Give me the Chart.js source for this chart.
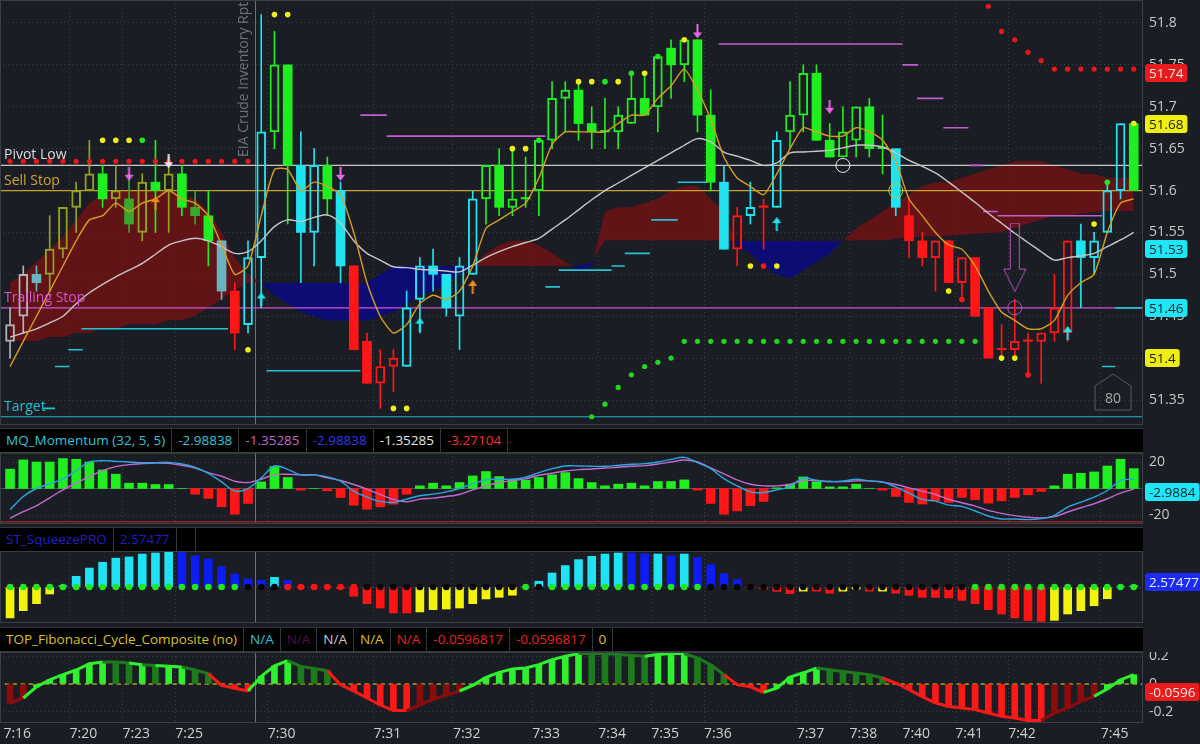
<!DOCTYPE html>
<html>
<head>
<meta charset="utf-8">
<script src="https://cdn.jsdelivr.net/npm/chart.js@4.4.0/dist/chart.umd.min.js"></script>
<style>
  html, body { margin: 0; padding: 0; background: #1a1d23; width: 1200px; height: 744px; overflow: hidden; font-family: 'Open Sans', sans-serif; }
  .pane { position: absolute; left: 0; width: 1200px; }
  .hdr { position: absolute; left: 0; width: 1143px; height: 23px; background: #000; border-top: 1px solid #34373e; border-bottom: 1px solid #34373e; display: flex; font-size: 13.5px; line-height: 23px; }
  .hdr span { padding: 0 6px; border-right: 1px solid #34373e; white-space: nowrap; }
  #tickBox { position: absolute; left: 1094px; top: 373px; }
</style>
</head>
<body>

<div class="pane" style="top:0;height:425px"><canvas id="mainChart" width="1200" height="425"></canvas></div>

<div class="hdr" style="top:428px">
  <span style="color:#2fc6dc">MQ_Momentum (32, 5, 5)</span>
  <span style="color:#2fc6dc">-2.98838</span>
  <span style="color:#c463c8">-1.35285</span>
  <span style="color:#2b3bef">-2.98838</span>
  <span style="color:#e6e6e6">-1.35285</span>
  <span style="color:#ff2a2a">-3.27104</span>
</div>
<div class="pane" style="top:452px;height:72px"><canvas id="momChart" width="1200" height="72"></canvas></div>

<div class="hdr" style="top:527px">
  <span style="color:#1f1fc4">ST_SqueezePRO</span>
  <span style="color:#1f1fc4">2.57477</span>
  <span style="width:6px"></span>
</div>
<div class="pane" style="top:551px;height:72px"><canvas id="sqzChart" width="1200" height="72"></canvas></div>

<div class="hdr" style="top:627px">
  <span style="color:#d9c21f">TOP_Fibonacci_Cycle_Composite (no)</span>
  <span style="color:#2fc6dc">N/A</span>
  <span style="color:#4a1242">N/A</span>
  <span style="color:#c8c8c8">N/A</span>
  <span style="color:#d9c21f">N/A</span>
  <span style="color:#e8231c">N/A</span>
  <span style="color:#e8231c">-0.0596817</span>
  <span style="color:#e8231c">-0.0596817</span>
  <span style="color:#d9c21f">0</span>
</div>
<div class="pane" style="top:652px;height:92px"><canvas id="fibChart" width="1200" height="92"></canvas></div>

<svg id="tickBox" width="38" height="38">
  <polygon points="1,13 19,1 37,13 37,37 1,37" fill="none" stroke="#575b63" stroke-width="1"/>
  <text x="19" y="30" fill="#a8a8a8" font-size="14" font-family="Open Sans" text-anchor="middle">80</text>
</svg>

<script>
// ── BARS / TIME AXIS ─────────────────────────────────────────────
const timeLabels = [
  '7:16','','','','','7:20','','','','7:23',
  '','','','7:25','','','','','','',
  '7:30','','','','','','','','7:31','',
  '','','','','7:32','','','','','',
  '7:33','','','','','7:34','','','','7:35',
  '','','','7:36','','','','','','',
  '7:37','','','','7:38','','','','7:40','',
  '','','7:41','','','','7:42','','','',
  '','','','7:45','',''
];
const eventBar = 19;
const eventText = 'EIA Crude Inventory Rpt';

// ── PRICE CANDLES ────────────────────────────────────────────────
const candleOpen = [
  51.42,51.45,51.50,51.50,51.53,51.58,51.60,51.62,51.59,51.59,
  51.55,51.61,51.60,51.62,51.58,51.57,51.54,51.48,51.44,51.52,
  51.67,51.75,51.63,51.55,51.63,51.60,51.51,51.42,51.37,51.39,
  51.39,51.47,51.51,51.50,51.45,51.50,51.59,51.63,51.58,51.59,
  51.60,51.66,51.71,51.72,51.68,51.67,51.67,51.68,51.71,51.70,
  51.77,51.75,51.78,51.69,51.61,51.53,51.57,51.58,51.58,51.67,
  51.69,51.74,51.66,51.64,51.66,51.70,51.65,51.65,51.57,51.54,
  51.52,51.54,51.49,51.52,51.46,51.41,51.41,51.42,51.42,51.43,
  51.43,51.54,51.52,51.55,51.60,51.68
];
const candleHigh = [
  51.46,51.51,51.51,51.57,51.58,51.61,51.66,51.63,51.63,51.62,
  51.62,51.66,51.64,51.63,51.60,51.60,51.54,51.49,51.54,51.81,
  51.79,51.75,51.67,51.65,51.64,51.61,51.51,51.43,51.41,51.41,
  51.48,51.52,51.53,51.50,51.52,51.60,51.63,51.65,51.65,51.64,
  51.66,51.73,51.73,51.73,51.70,51.71,51.70,51.74,51.74,51.76,
  51.78,51.78,51.78,51.72,51.63,51.58,51.61,51.59,51.67,51.73,
  51.75,51.75,51.68,51.70,51.70,51.71,51.69,51.65,51.59,51.55,
  51.54,51.54,51.52,51.52,51.46,51.44,51.47,51.43,51.43,51.50,
  51.54,51.56,51.55,51.61,51.68,51.68
];
const candleLow = [
  51.40,51.43,51.48,51.48,51.52,51.55,51.60,51.58,51.58,51.55,
  51.54,51.55,51.55,51.57,51.56,51.51,51.47,51.41,51.43,51.46,
  51.65,51.56,51.49,51.51,51.57,51.49,51.41,51.37,51.34,51.36,
  51.39,51.43,51.48,51.45,51.41,51.50,51.56,51.57,51.57,51.58,
  51.57,51.65,51.67,51.66,51.65,51.65,51.65,51.68,51.69,51.67,
  51.71,51.73,51.67,51.60,51.53,51.51,51.56,51.53,51.58,51.65,
  51.67,51.66,51.64,51.64,51.64,51.64,51.62,51.57,51.52,51.51,
  51.48,51.49,51.47,51.45,51.40,51.40,51.40,51.38,51.37,51.42,
  51.42,51.46,51.50,51.55,51.59,51.60
];
const candleClose = [
  51.44,51.50,51.49,51.53,51.58,51.60,51.62,51.59,51.60,51.56,
  51.61,51.60,51.62,51.58,51.57,51.54,51.48,51.43,51.52,51.67,
  51.75,51.63,51.55,51.63,51.59,51.51,51.41,51.37,51.39,51.40,
  51.46,51.51,51.50,51.46,51.51,51.59,51.63,51.58,51.59,51.59,
  51.66,51.71,51.72,51.68,51.67,51.67,51.69,51.71,51.69,51.76,
  51.75,51.78,51.69,51.61,51.53,51.57,51.58,51.58,51.66,51.69,
  51.74,51.66,51.64,51.67,51.70,51.65,51.65,51.58,51.54,51.52,
  51.54,51.49,51.52,51.45,51.40,51.41,51.42,51.42,51.43,51.46,
  51.54,51.52,51.54,51.60,51.68,51.60
];
const candleColor = [
  'W','W','c','O','O','O','O','G','O','D',
  'O','G','O','G','D','G','c','R','C','C',
  'G','G','C','C','G','C','R','R','R','R',
  'C','C','C','C','C','C','G','G','G','G',
  'G','G','G','G','G','G','G','G','G','G',
  'G','G','G','G','C','R','C','R','C','G',
  'G','G','G','G','G','G','G','C','R','R',
  'R','R','R','R','R','R','R','R','R','R',
  'R','C','C','C','C','G'
];

// ── OVERLAYS ─────────────────────────────────────────────────────
const emaFast = [
  51.39,51.42,51.45,51.48,51.51,51.54,51.565,51.57,51.585,51.575,
  51.585,51.59,51.60,51.59,51.585,51.57,51.535,51.50,51.51,51.57,
  51.625,51.625,51.60,51.61,51.605,51.595,51.55,51.49,51.45,51.43,
  51.44,51.465,51.475,51.47,51.48,51.51,51.555,51.565,51.575,51.585,
  51.615,51.655,51.67,51.67,51.67,51.67,51.68,51.69,51.69,51.71,
  51.725,51.745,51.72,51.685,51.64,51.615,51.605,51.595,51.62,51.65,
  51.675,51.67,51.665,51.665,51.675,51.67,51.66,51.635,51.59,51.57,
  51.55,51.535,51.53,51.51,51.48,51.455,51.445,51.435,51.435,51.445,
  51.475,51.49,51.50,51.55,51.585,51.59
];
const smaSlow = [
  51.425,51.43,51.435,51.442,51.45,51.465,51.478,51.488,51.497,51.505,
  51.513,51.524,51.535,51.54,51.543,51.54,51.533,51.525,51.527,51.54,
  51.557,51.565,51.563,51.568,51.571,51.561,51.54,51.525,51.517,51.509,
  51.508,51.506,51.505,51.504,51.503,51.511,51.52,51.527,51.533,51.538,
  51.543,51.554,51.565,51.577,51.589,51.60,51.609,51.618,51.627,51.636,
  51.645,51.654,51.662,51.658,51.646,51.641,51.636,51.63,51.633,51.645,
  51.646,51.647,51.648,51.651,51.654,51.654,51.652,51.645,51.636,51.629,
  51.621,51.61,51.598,51.586,51.573,51.561,51.549,51.538,51.527,51.517,
  51.52,51.522,51.525,51.533,51.541,51.55
];
const cloudSpanA = [
  51.49,51.50,51.515,51.53,51.545,51.565,51.585,51.595,51.60,51.60,
  51.60,51.60,51.60,51.595,51.59,51.575,51.55,51.52,51.50,51.49,
  51.475,51.465,51.455,51.45,51.445,51.445,51.445,51.445,51.45,51.455,
  51.465,51.475,51.48,51.49,51.50,51.51,51.525,51.535,51.54,51.54,
  51.535,51.525,51.515,51.505,51.51,51.575,51.58,51.58,51.585,51.59,
  51.60,51.605,51.605,51.59,51.575,51.535,51.525,51.51,51.50,51.495,
  51.505,51.515,51.525,51.54,51.555,51.565,51.575,51.585,51.595,51.605,
  51.61,51.61,51.615,51.62,51.625,51.63,51.635,51.635,51.635,51.63,
  51.625,51.62,51.62,51.615,51.615,51.615
];
const cloudSpanB = [
  51.42,51.42,51.42,51.425,51.425,51.43,51.43,51.435,51.435,51.44,
  51.44,51.44,51.445,51.445,51.45,51.46,51.47,51.48,51.49,51.49,
  51.49,51.49,51.49,51.49,51.49,51.49,51.49,51.49,51.50,51.51,
  51.51,51.51,51.51,51.51,51.51,51.51,51.51,51.51,51.51,51.51,
  51.51,51.51,51.51,51.51,51.515,51.54,51.54,51.54,51.54,51.54,
  51.54,51.54,51.54,51.54,51.54,51.54,51.54,51.54,51.54,51.54,
  51.54,51.54,51.54,51.54,51.54,51.54,51.54,51.542,51.544,51.545,
  51.545,51.546,51.547,51.548,51.549,51.55,51.555,51.56,51.565,51.57,
  51.57,51.572,51.574,51.575,51.575,51.575
];

const pivotLow = 51.63, sellStop = 51.60, trailingStop = 51.46, target = 51.33;

// level segments: [fromBar, toBar, price]
const resistanceLevels = [
  [26.5,28.5,51.69],[28.5,40.5,51.665],[53.6,67.5,51.775],[67.5,68.7,51.75],
  [68.6,70.6,51.71],[70.6,72.5,51.675],[72.6,73.6,51.63],[73.6,74.7,51.575],[74.7,82.6,51.57]
];
const supportLevels = [
  [2.5,3.4,51.34],[3.4,4.5,51.39],[4.4,5.5,51.41],[5.4,16.5,51.435],[19.4,26.5,51.385],
  [40.5,41.6,51.485],[41.5,45.5,51.505],[45.5,46.5,51.51],[46.5,48.4,51.525],
  [48.5,50.5,51.565],[50.5,52.8,51.61],[82.6,83.6,51.39],[83.6,85.8,51.46]
];

// dots: [bar, price]
const pivotDots = [
  [0,51.635],[1,51.635],[2,51.635],[3,51.635],[4,51.635],[5,51.635],[6,51.635],[7,51.635],[8,51.635],[9,51.635],
  [10,51.635],[11,51.635],[12,51.635],[13,51.635],[14,51.635],[15,51.635],[16,51.635],[17,51.635],[18,51.635]
];
const sarUp = [
  [44,51.33],[45,51.345],[46,51.365],[47,51.38],[48,51.39],[49,51.395],[50,51.40],
  [51,51.42],[52,51.42],[53,51.42],[54,51.42],[55,51.42],[56,51.42],[57,51.42],[58,51.42],
  [59,51.42],[60,51.42],[61,51.42],[62,51.42],[63,51.42],[64,51.42],[65,51.42],[66,51.42],
  [67,51.42],[68,51.42],[69,51.42],[70,51.42],[71,51.42],[72,51.42],[73,51.42]
];
const sarDown = [
  [74,51.82],[75,51.79],[76,51.78],[77,51.765],[78,51.755],[79,51.745],
  [80,51.745],[81,51.745],[82,51.745],[83,51.745],[84,51.745],[85,51.745]
];
const signalYellow = [
  [7,51.66],[8,51.66],[9,51.66],[18,51.41],[20,51.81],[21,51.81],[29,51.34],[30,51.34],
  [38,51.65],[39,51.65],[43,51.73],[44,51.73],[46,51.73],[48,51.74],[51,51.78],
  [56,51.51],[58,51.51],[71,51.48],[75,51.40],[76,51.40],[82,51.56],[85,51.68]
];
const signalGreen = [[10,51.66],[40,51.66],[45,51.73],[47,51.74],[49,51.76],[83,51.61]];
const signalRed = [[57,51.51],[72,51.47],[77,51.38]];

const arrowsDownMagenta = [[9,51.62],[25,51.62],[52,51.79],[62,51.70]];
const arrowsDownWhite = [[12,51.635]];
const arrowsUpOrange = [[11,51.585],[35,51.485]];
const arrowsUpCyan = [[19,51.47],[31,51.44],[58,51.56],[80,51.43]];
const ringWhite = [[63,51.63]], ringYellow = [[67,51.60]], ringMagenta = [[76,51.46]];
const bigArrow = [[76,51.52]];

const priceTicks = [51.35,51.4,51.45,51.5,51.55,51.6,51.65,51.7,51.75,51.8];

// ── MQ MOMENTUM ──────────────────────────────────────────────────
const mqHist = [
  14.6,21.6,20,20,22.6,22,20,14,10.8,4,
  4,3,3,0,-4.3,-7.5,-13.8,-19.4,-11.3,5,
  16.6,8.3,-1.2,0,-1.8,-6.8,-12.6,-15.6,-13.8,-11.8,
  -4.3,2,4,2,4.5,9.5,12.8,9,7,6.3,
  8.3,10.3,12,7.5,4.5,2,3.3,4,2,5.3,
  5.3,6.5,-1.2,-11.3,-19.4,-16.9,-13,-9.8,0.5,3.3,
  8.75,5,1.25,1.25,3.25,0,-1.25,-6,-10.5,-11.75,
  -9.25,-10.5,-6.75,-8.5,-11,-9.25,-6.75,-4.75,-2.25,2,
  10.75,11.5,12.5,17,22,15
];
const mqFast = [
  -16,-6,0,3.5,7,13.5,20,21,20.5,20,
  19.5,19.5,19.75,18.5,16,11.5,5,-2,0,8,
  17,14.5,10.25,10.25,8.75,5.5,-2,-6.5,-9.75,-10.5,
  -8,-5.5,-4.25,-2.5,0,3.5,6.5,7,7,8.5,
  12,15,17,17,16.75,16.75,17.5,18.25,18.75,20,
  22,23.5,19.5,15,7.5,2,-2.5,-3,-1,1.5,
  8,6.25,5.25,5.5,7,5.75,5,1,-3.5,-8.25,
  -9.5,-12.5,-13.5,-17,-20.75,-23,-23,-23.5,-22.75,-20.25,
  -14,-10.25,-6.5,-1.5,6,7
];
const mqSlow = [
  -22.5,-17.5,-13,-7,-1,4,9,13.5,16.5,18,
  18.75,19.25,19,17.5,15.5,12,9.25,5.5,4.5,7,
  10.5,10.75,10.25,10.25,8,6,3,-0.5,-4.5,-8.25,
  -10,-8,-7.25,-6,-4.5,-1,2,4.5,6,7.25,
  10,11.5,13.25,14.25,14.75,15.5,16,16.75,17.25,18.5,
  20,21.5,20,15.5,11,6.5,3.25,2,2,3,
  6.25,5.75,5.25,5.25,5.75,5.75,4.75,3,0.5,-2,
  -4.5,-8.25,-10.75,-13.25,-16.5,-18.75,-20.5,-21.75,-22.25,-21.25,
  -17.75,-14.5,-11.5,-7.75,-3.5,-0.5
];
const mqUpperBand = 27, mqLowerBand = -25;
const mqTicks = [20, -20];

// ── SQUEEZE PRO ──────────────────────────────────────────────────
const sqzHist = [
  -15,-11.5,-8.1,-3.4,0.6,5.2,9.2,12,14,14.6,
  16,16.5,17,17,15.2,13.6,10,6.3,3.9,3.2,
  4.7,3.2,0,0,0,-0.6,-4.5,-8.1,-10.2,-12.6,
  -12.6,-12.1,-11,-10.7,-10.2,-8.1,-5.8,-5,-4,0,
  2.8,6.8,10.4,13.3,14.9,16,16.5,16.5,16.2,16,
  15.2,16,14.4,10.8,6.5,3.6,0,-1,-2.1,-3.2,
  -2,-2,-3,-2,-1,-2,-2,-3,-4,-5,
  -5,-5.3,-6.5,-8.1,-11,-13.1,-15,-16.3,-16.7,-16.2,
  -13.1,-11.5,-9.1,-5.7,0.3,0.6
];
const sqzColor = [
  'Y','Y','Y','Y','C','C','C','C','C','C',
  'C','C','C','B','B','B','B','B','B','B',
  'C','B','R','R','R','R','R','R','R','R',
  'R','Y','Y','Y','Y','Y','Y','Y','Y','C',
  'C','C','C','C','C','C','C','B','B','C',
  'B','C','B','B','B','B','R','R','R','R',
  'Y','R','R','Y','Y','R','Y','R','R','R',
  'R','R','R','R','R','R','R','R','R','Y',
  'Y','Y','Y','Y','C','C'
];
const sqzDot = [
  'G','G','G','G','G','G','G','G','G','G',
  'G','G','G','G','G','G','G','G','K','K',
  'K','R','R','R','R','R','R','K','K','K',
  'K','K','K','K','K','K','K','K','K','G',
  'K','G','G','G','G','G','G','G','G','G',
  'G','G','G','K','K','K','K','K','K','K',
  'K','K','K','K','K','K','K','K','K','K',
  'K','K','K','G','G','G','G','G','G','G',
  'G','G','G','G','G','G'
];

// ── FIBONACCI CYCLE COMPOSITE ────────────────────────────────────
const fibValue = [
  -0.136,-0.10,-0.02,0.03,0.067,0.10,0.145,0.157,0.157,0.15,
  0.138,0.133,0.126,0.121,0.10,0.074,-0.01,-0.03,-0.05,0.055,
  0.13,0.167,0.126,0.11,0.095,-0.005,-0.05,-0.10,-0.15,-0.19,
  -0.19,-0.15,-0.11,-0.08,-0.05,-0.01,0.048,0.083,0.107,0.114,
  0.138,0.174,0.198,0.217,0.217,0.217,0.21,0.205,0.198,0.21,
  0.217,0.217,0.186,0.138,0.067,-0.005,-0.02,-0.06,-0.03,0.05,
  0.08,0.114,0.102,0.09,0.079,0.067,0.043,0.007,-0.04,-0.09,
  -0.135,-0.16,-0.171,-0.183,-0.207,-0.23,-0.243,-0.26,-0.26,-0.207,
  -0.171,-0.124,-0.088,-0.035,0.03,0.067
];
const fibColor = [
  'm','m','g','g','g','g','g','g','d','d',
  'g','d','g','g','d','d','r','r','r','g',
  'g','g','d','d','d','r','r','r','r','r',
  'r','m','m','m','m','g','g','g','g','g',
  'g','g','g','g','d','d','d','d','d','g',
  'g','g','d','d','d','r','r','r','g','g',
  'g','g','d','d','d','d','d','r','r','r',
  'r','r','r','r','r','r','r','r','r','m',
  'm','m','m','g','g','g'
];
const fibTicks = [0.2, 0, -0.2];

// ── STYLE ────────────────────────────────────────────────────────
const candlePalette = { G: '#1fee1f', D: '#38a82e', O: '#93a31c', C: '#1fe3ee', c: '#68b4be', R: '#ff1616', W: '#b4b4b4' };
const sqzPalette = { Y: '#f2f20c', C: '#1fe3f5', B: '#0c1cf2', R: '#ff1414' };
const sqzDotPalette = { G: '#1fe81f', K: '#050505', R: '#ff1414' };
const fibPalette = { g: '#2ef02e', d: '#1d7a1d', r: '#ff1818', m: '#8c0c0c' };
const GRID = '#3b4049';
const X_MIN = -0.76, X_MAX = 85.7;

Chart.defaults.font.family = "'Open Sans', sans-serif";
Chart.defaults.color = '#c8c8c8';

const tickBars = timeLabels.map((t, i) => (t ? i : -1)).filter(i => i >= 0);
const pts = arr => arr.map(([x, y]) => ({ x, y }));
const series = arr => arr.map((y, x) => ({ x, y }));
const segs = arr => arr.flatMap(([a, b, p]) => [{ x: a, y: p }, { x: b, y: p }, { x: b, y: null }]);
const flat = v => [{ x: -1, y: v }, { x: 87, y: v }];

function arrowImg(color, up, w = 9, h = 14) {
    const c = document.createElement('canvas');
    c.width = w; c.height = h;
    const g = c.getContext('2d');
    g.fillStyle = color;
    if (up) { g.translate(0, h); g.scale(1, -1); }
    g.fillRect(w / 2 - 1, 0, 2, h - 5);
    g.beginPath(); g.moveTo(0, h - 6); g.lineTo(w, h - 6); g.lineTo(w / 2, h); g.closePath(); g.fill();
    return c;
}
function hollowArrowImg(color) {
    const c = document.createElement('canvas');
    c.width = 24; c.height = 70;
    const g = c.getContext('2d');
    g.strokeStyle = color; g.lineWidth = 1;
    g.beginPath();
    g.moveTo(7.5, 0.5); g.lineTo(16.5, 0.5); g.lineTo(16.5, 46.5); g.lineTo(23, 46.5);
    g.lineTo(12, 69); g.lineTo(1, 46.5); g.lineTo(7.5, 46.5); g.closePath(); g.stroke();
    return c;
}

function roundRect(ctx, x, y, w, h, r) {
    ctx.beginPath();
    ctx.moveTo(x + r, y); ctx.lineTo(x + w - r, y); ctx.quadraticCurveTo(x + w, y, x + w, y + r);
    ctx.lineTo(x + w, y + h - r); ctx.quadraticCurveTo(x + w, y + h, x + w - r, y + h);
    ctx.lineTo(x + r, y + h); ctx.quadraticCurveTo(x, y + h, x, y + h - r);
    ctx.lineTo(x, y + r); ctx.quadraticCurveTo(x, y, x + r, y); ctx.closePath();
}

// event line, frame, level labels, price badges
const paneDeco = {
    id: 'paneDeco',
    beforeDatasetsDraw(chart) {
        const { ctx, chartArea: a, scales } = chart;
        const px = Math.round(scales.x.getPixelForValue(eventBar - 0.5)) + 0.5;
        ctx.save();
        ctx.strokeStyle = '#6e727a';
        ctx.lineWidth = 1;
        ctx.beginPath(); ctx.moveTo(px, a.top); ctx.lineTo(px, a.bottom); ctx.stroke();
        ctx.restore();
    },
    afterDatasetsDraw(chart, args, opts) {
        const { ctx, chartArea: a, scales } = chart;
        ctx.save();
        ctx.font = '14px "Open Sans"';
        ctx.textBaseline = 'alphabetic';
        ctx.textAlign = 'left';
        (opts.levels || []).forEach(l => {
            ctx.fillStyle = l.color;
            ctx.fillText(l.text, a.left + 4, scales.y.getPixelForValue(l.value) - 6);
        });
        if (opts.eventText) {
            const px = scales.x.getPixelForValue(eventBar - 0.5);
            ctx.translate(px - 11, 157);
            ctx.rotate(-Math.PI / 2);
            ctx.fillStyle = '#6e727a';
            ctx.textBaseline = 'middle';
            ctx.fillText(opts.eventText, 0, 0);
        }
        ctx.restore();
    },
    afterDraw(chart, args, opts) {
        const { ctx, chartArea: a, scales } = chart;
        ctx.save();
        ctx.strokeStyle = '#3a3e46';
        ctx.lineWidth = 1;
        ctx.strokeRect(a.left + 0.5, a.top + 0.5, a.right - a.left - 1, a.bottom - a.top - 1);
        ctx.font = '13.5px "Open Sans"';
        (opts.badges || []).forEach(b => {
            const y = Math.round(scales.y.getPixelForValue(b.value));
            const w = ctx.measureText(b.text).width + 8;
            const x = a.right + 2;
            ctx.fillStyle = b.bg;
            roundRect(ctx, x, y - 9, w, 18, 3);
            ctx.fill();
            ctx.fillStyle = b.fg;
            ctx.textBaseline = 'middle';
            ctx.textAlign = 'left';
            ctx.fillText(b.text, x + 4, y + 1);
        });
        ctx.restore();
    }
};

function xAxis(showLabels) {
    return {
        type: 'linear', min: X_MIN, max: X_MAX, offset: false,
        afterBuildTicks: s => { s.ticks = tickBars.map(i => ({ value: i - 0.5 })); },
        afterFit: s => { s.height = showLabels ? 21 : 0; s.paddingLeft = 0; s.paddingRight = 0; },
        ticks: {
            display: showLabels, autoSkip: false, maxRotation: 0, align: 'start', padding: 3,
            color: '#d0d0d0', font: { size: 14 },
            callback: (v, k) => timeLabels[tickBars[k]]
        },
        grid: { offset: false, drawTicks: false, color: c => (c.index === 0 ? 'rgba(0,0,0,0)' : GRID) },
        border: { display: false, dash: [1, 3] }
    };
}
function yAxis(min, max, ticks, fmt) {
    return {
        position: 'right', min, max,
        afterBuildTicks: s => { s.ticks = ticks.map(v => ({ value: v })); },
        afterFit: s => { s.width = 57; s.paddingTop = 0; s.paddingBottom = 0; },
        ticks: { color: '#c8c8c8', font: { size: 14 }, padding: 6, callback: fmt },
        grid: { drawTicks: false, color: GRID },
        border: { display: false, dash: [1, 3] }
    };
}
const baseOptions = (scales, deco) => ({
    responsive: false, animation: false, devicePixelRatio: 1,
    layout: { padding: 0, autoPadding: false },
    plugins: { legend: { display: false }, tooltip: { enabled: false }, paneDeco: deco },
    scales
});
const dots = (data, color, r = 2.6, order = 4) => ({
    type: 'line', data: pts(data), showLine: false, order,
    pointRadius: r, pointBackgroundColor: color, pointBorderWidth: 0
});
const marks = (data, style, order = 2) => ({
    type: 'line', data: pts(data), showLine: false, order, pointStyle: style, pointRadius: 7
});
const rings = (data, color) => ({
    type: 'line', data: pts(data), showLine: false, order: 2,
    pointRadius: 7, pointBackgroundColor: 'rgba(0,0,0,0)', pointBorderColor: color, pointBorderWidth: 1
});
const hline = (v, color, order, width = 1.2, dash = []) => ({
    type: 'line', data: flat(v), borderColor: color, borderWidth: width, borderDash: dash, pointRadius: 0, order
});

// ── MAIN PRICE CHART ─────────────────────────────────────────────
const isUp = i => candleClose[i] > candleOpen[i];
const cCol = i => candlePalette[candleColor[i]];
const bodyTop = i => Math.max(candleOpen[i], candleClose[i]);
const bodyBot = i => Math.min(candleOpen[i], candleClose[i]);

new Chart(document.getElementById('mainChart'), {
    type: 'bar',
    data: {
        datasets: [
            { type: 'line', data: series(cloudSpanB), borderWidth: 0, pointRadius: 0, order: 30 },
            { type: 'line', data: series(cloudSpanA), borderWidth: 0, pointRadius: 0, order: 29,
              fill: { target: 0, above: 'rgba(104,18,22,0.92)', below: 'rgba(12,12,122,0.95)' } },
            hline(pivotLow, '#c9c9c9', 20),
            hline(sellStop, '#c9a12e', 20),
            hline(trailingStop, '#cf55d2', 20),
            hline(target, '#22b6c6', 20),
            { type: 'line', data: segs(resistanceLevels), borderColor: '#c25fd0', borderWidth: 1.6, pointRadius: 0, order: 19 },
            { type: 'line', data: segs(supportLevels), borderColor: '#22c4d4', borderWidth: 1.6, pointRadius: 0, order: 19 },
            { data: candleHigh.map((h, i) => ({ x: i, y: [bodyTop(i), h] })), grouped: false, barThickness: 1,
              backgroundColor: candleHigh.map((h, i) => cCol(i)), order: 12 },
            { data: candleLow.map((l, i) => ({ x: i, y: [l, bodyBot(i)] })), grouped: false, barThickness: 1,
              backgroundColor: candleLow.map((l, i) => cCol(i)), order: 12 },
            { data: candleOpen.map((o, i) => ({ x: i, y: [o, candleClose[i]] })), grouped: false, barThickness: 9,
              minBarLength: 1.5, borderSkipped: false,
              backgroundColor: candleOpen.map((o, i) => (isUp(i) ? 'rgba(0,0,0,0)' : cCol(i))),
              borderColor: candleOpen.map((o, i) => cCol(i)),
              borderWidth: candleOpen.map((o, i) => (isUp(i) ? 1.3 : 0)), order: 11 },
            { type: 'line', data: series(smaSlow), borderColor: '#c6c6c6', borderWidth: 1.4, pointRadius: 0, tension: 0.3, order: 8 },
            { type: 'line', data: series(emaFast), borderColor: '#d6a01e', borderWidth: 1.4, pointRadius: 0, tension: 0.2, order: 7 },
            dots(pivotDots, '#e81818'),
            dots(sarUp, '#1fd81f'),
            dots(sarDown, '#e81818'),
            dots(signalYellow, '#f0f014', 2.8),
            dots(signalGreen, '#1fe81f', 2.8),
            dots(signalRed, '#ff1616', 2.8),
            marks(arrowsDownMagenta, arrowImg('#e868e8', false)),
            marks(arrowsDownWhite, arrowImg('#e8e8e8', false)),
            marks(arrowsUpOrange, arrowImg('#f08a1c', true)),
            marks(arrowsUpCyan, arrowImg('#22e6f0', true)),
            marks(bigArrow, hollowArrowImg('#b454bc')),
            rings(ringWhite, '#e8e8e8'),
            rings(ringYellow, '#d8c81c'),
            rings(ringMagenta, '#b454bc')
        ]
    },
    options: baseOptions({
        x: xAxis(false),
        y: yAxis(51.32016, 51.82745, priceTicks, v => String(+v.toFixed(2)))
    }, {
        eventText,
        levels: [
            { value: pivotLow, text: 'Pivot Low', color: '#dedede' },
            { value: sellStop, text: 'Sell Stop', color: '#d0a630' },
            { value: trailingStop, text: 'Trailing Stop', color: '#d455d6' },
            { value: target, text: 'Target', color: '#22c0d0' }
        ],
        badges: [
            { value: 51.74, text: '51.74', bg: '#e81c1c', fg: '#ffe8e8' },
            { value: 51.68, text: '51.68', bg: '#eeee10', fg: '#202020' },
            { value: 51.53, text: '51.53', bg: '#1ee6f4', fg: '#102028' },
            { value: 51.46, text: '51.46', bg: '#1ee6f4', fg: '#102028' },
            { value: 51.40, text: '51.4', bg: '#eeee10', fg: '#202020' }
        ]
    }),
    plugins: [paneDeco]
});

// ── MOMENTUM ─────────────────────────────────────────────────────
new Chart(document.getElementById('momChart'), {
    type: 'bar',
    data: {
        datasets: [
            hline(0, '#4e525a', 20, 1),
            hline(mqUpperBand, '#2f6a2a', 20, 1.5),
            hline(mqLowerBand, '#8a2626', 20, 1.5),
            { data: series(mqHist), grouped: false, barThickness: 9,
              backgroundColor: mqHist.map(v => (v >= 0 ? '#1fee1f' : '#ff1616')), order: 10 },
            { type: 'line', data: series(mqSlow), borderColor: '#c36ad2', borderWidth: 1.4, pointRadius: 0, tension: 0.3, order: 6 },
            { type: 'line', data: series(mqFast), borderColor: '#2aa8e4', borderWidth: 1.4, pointRadius: 0, tension: 0.3, order: 5 }
        ]
    },
    options: baseOptions({
        x: xAxis(false),
        y: yAxis(-26.79, 27.55, mqTicks, v => String(v))
    }, { badges: [{ value: -2.98838, text: '-2.9884', bg: '#1ee6f4', fg: '#102028' }] }),
    plugins: [paneDeco]
});

// ── SQUEEZE ──────────────────────────────────────────────────────
new Chart(document.getElementById('sqzChart'), {
    type: 'bar',
    data: {
        datasets: [
            { data: series(sqzHist), grouped: false, barThickness: 8,
              backgroundColor: sqzColor.map(c => sqzPalette[c]), order: 10 },
            { type: 'line', data: sqzDot.map((c, i) => ({ x: i, y: 0 })), showLine: false, order: 4,
              pointRadius: 3.3, pointBorderWidth: 0, pointBackgroundColor: sqzDot.map(c => sqzDotPalette[c]) }
        ]
    },
    options: baseOptions({
        x: xAxis(false),
        y: yAxis(-17.48, 17.48, [0], v => String(v))
    }, { badges: [{ value: 2.57477, text: '2.57477', bg: '#1c2cf6', fg: '#e8ecff' }] }),
    plugins: [paneDeco]
});

// ── FIBONACCI CYCLE ──────────────────────────────────────────────
new Chart(document.getElementById('fibChart'), {
    type: 'bar',
    data: {
        datasets: [
            hline(0, '#c2b80c', 20, 1.3, [4, 4]),
            { data: series(fibValue), grouped: false, barThickness: 6,
              backgroundColor: fibColor.map(c => fibPalette[c]), order: 10 },
            { type: 'line', data: series(fibValue), borderWidth: 3, pointRadius: 0, order: 5,
              borderColor: fibPalette.g,
              segment: { borderColor: c => fibPalette[fibColor[c.p1DataIndex]] } }
        ]
    },
    options: baseOptions({
        x: xAxis(true),
        y: yAxis(-0.2786, 0.2286, fibTicks, v => String(v))
    }, { badges: [{ value: -0.0596817, text: '-0.0596', bg: '#e81c1c', fg: '#ffe8e8' }] }),
    plugins: [paneDeco]
});
</script>
</body>
</html>
